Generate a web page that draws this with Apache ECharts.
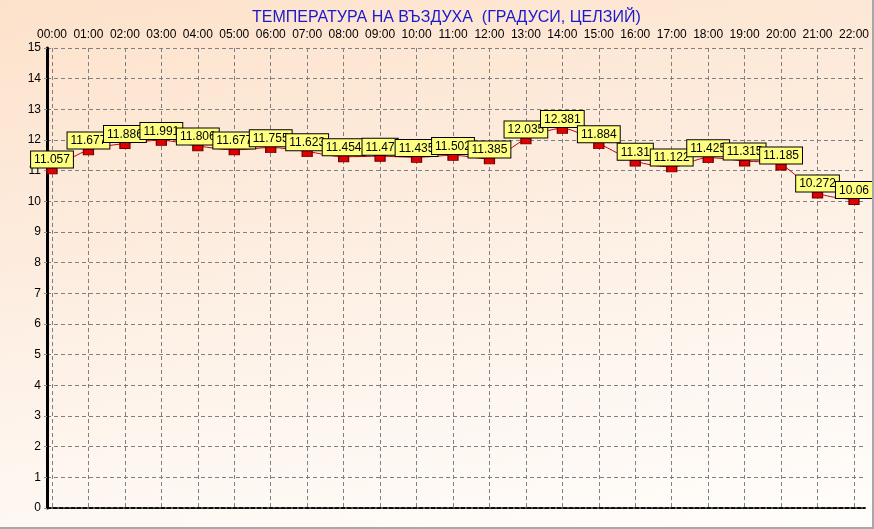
<!DOCTYPE html>
<html>
<head>
<meta charset="utf-8">
<script src="https://cdn.jsdelivr.net/npm/echarts@6/dist/echarts.min.js"></script>
<style>
html,body{margin:0;padding:0;background:#ffffff;}
#wrap{width:874px;height:529px;box-sizing:border-box;border-right:2px solid #a8a8a8;border-bottom:2px solid #a8a8a8;
background:linear-gradient(170deg,#fde2cb 0%,#fdebdc 35%,#fef6ef 70%,#fffdfb 100%);}
#chart{width:872px;height:527px;}
</style>
</head>
<body>
<div id="wrap"><div id="chart"></div></div>
<script>
const titleText = 'ТЕМПЕРАТУРА НА ВЪЗДУХА  (ГРАДУСИ, ЦЕЛЗИЙ)';
const hours = ['00:00','01:00','02:00','03:00','04:00','05:00','06:00','07:00','08:00','09:00','10:00','11:00',
  '12:00','13:00','14:00','15:00','16:00','17:00','18:00','19:00','20:00','21:00','22:00'];
const temps = [11.057,11.677,11.886,11.991,11.806,11.677,11.755,11.623,11.454,11.47,11.435,11.502,
  11.385,12.035,12.381,11.884,11.31,11.122,11.425,11.315,11.185,10.272,10.06];
const yMin = 0, yMax = 15, yStep = 1;

const font = 'Liberation Sans, Arial, sans-serif';
const dash = {color:'#808080', type:[4,3], width:1};
const chart = echarts.init(document.getElementById('chart'), null, {renderer:'canvas'});
chart.setOption({
  animation:false,
  backgroundColor:'transparent',
  title:{text:titleText, left:247, top:5,
    textStyle:{color:'#1a1acc', fontSize:16, fontWeight:'normal', fontFamily:font}},
  grid:[
    {left:47, right:7, top:48, bottom:19},
    {left:52, right:13, top:48, bottom:19}
  ],
  xAxis:[
    {gridIndex:0, type:'value', position:'bottom', min:0, max:1,
      axisLine:{show:true, lineStyle:{color:'#000', type:[4,2], width:1.5}},
      axisLabel:{show:false}, axisTick:{show:false}, splitLine:{show:false}},
    {gridIndex:0, type:'value', position:'top', min:0, max:1,
      axisLine:{show:true, lineStyle:{color:'#000', type:[4,2], width:1.5}},
      axisLabel:{show:false}, axisTick:{show:false}, splitLine:{show:false}},
    {gridIndex:1, type:'category', position:'top', data:hours, boundaryGap:false,
      axisLine:{show:false}, axisTick:{show:false},
      axisLabel:{color:'#000', fontSize:12, fontFamily:font, margin:7, interval:0},
      splitLine:{show:true, interval:0, lineStyle:dash}}
  ],
  yAxis:[
    {gridIndex:0, type:'value', min:yMin, max:yMax, interval:yStep, position:'left',
      axisLine:{show:true, lineStyle:{color:'#000', width:3}},
      axisTick:{show:true, length:3, lineStyle:{color:'#909090'}},
      axisLabel:{color:'#000', fontSize:12, fontFamily:font, margin:6},
      splitLine:{show:true, lineStyle:dash}},
    {gridIndex:0, type:'value', min:yMin, max:yMax, interval:yStep, position:'right',
      axisLine:{show:true, lineStyle:{color:'#000', width:1.5}},
      axisLabel:{show:false}, axisTick:{show:false}, splitLine:{show:false}},
    {gridIndex:1, type:'value', min:yMin, max:yMax, show:false}
  ],
  series:[{
    type:'line', xAxisIndex:2, yAxisIndex:2, data:temps, smooth:0.3,
    symbol:'rect', symbolSize:[10,6], symbolOffset:[0,2], showAllSymbol:true,
    lineStyle:{color:'#cc0000', width:1},
    itemStyle:{color:'#e00000', borderColor:'#700000', borderWidth:1},
    label:{show:true, position:'top', distance:0, color:'#000', fontSize:12, fontFamily:font,
      lineHeight:13, backgroundColor:'#ffff80', borderColor:'#000', borderWidth:1, padding:[2,3,1,3]},
    z:5
  }]
});
</script>
</body>
</html>
